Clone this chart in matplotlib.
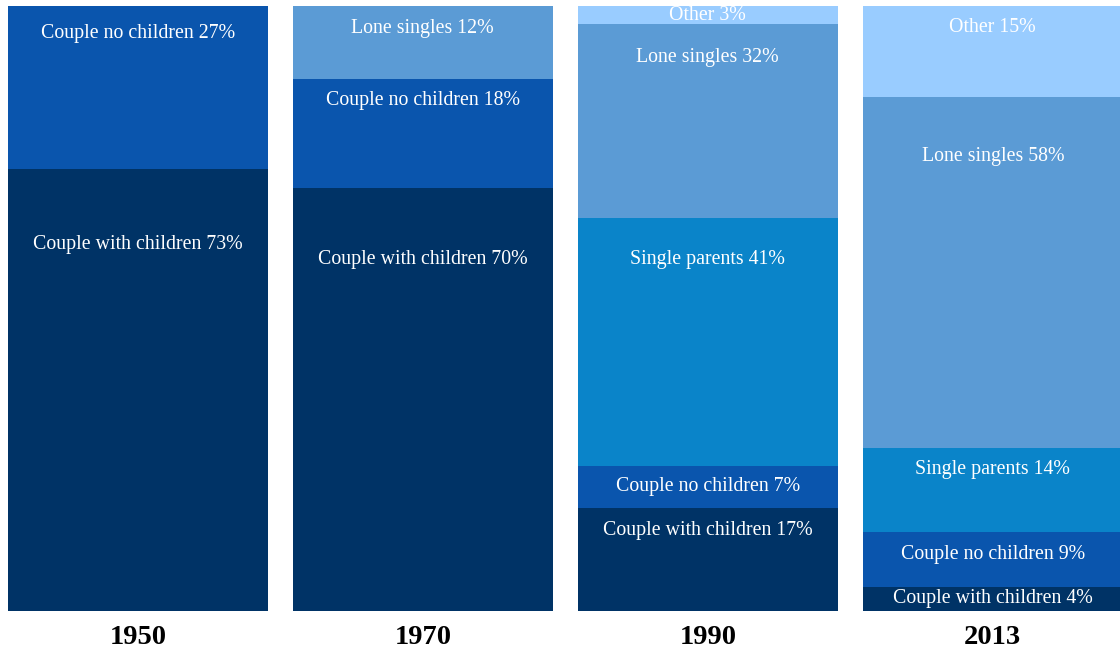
import matplotlib
matplotlib.use("Agg")
import matplotlib.pyplot as plt

# Household composition by year (percent of households)
years = ["1950", "1970", "1990", "2013"]
categories = ["Couple with children", "Couple no children", "Single parents",
              "Lone singles", "Other"]
couple_with_children = [73, 70, 17, 4]
couple_no_children = [27, 18, 7, 9]
single_parents = [0, 0, 41, 14]
lone_singles = [0, 12, 32, 58]
other = [0, 0, 3, 15]

series = [couple_with_children, couple_no_children, single_parents,
          lone_singles, other]
colors = ["#003366", "#0a55ad", "#0a84c9", "#5b9bd5", "#99ccff"]

W, H, DPI = 1120, 655, 100
fig = plt.figure(figsize=(W / DPI, H / DPI), dpi=DPI)
ax_top, ax_bottom = 6, 611
ax = fig.add_axes([0, (H - ax_bottom) / H, 1, (ax_bottom - ax_top) / H])

step_px = 285.0
bar_w = 259.5 / step_px
left_pad = 8 / step_px
ax.set_xlim(-bar_w / 2 - left_pad, -bar_w / 2 - left_pad + W / step_px)
ax.set_ylim(0, 100)
ax.axis("off")

px_per_unit = (ax_bottom - ax_top) / 100
font = "Liberation Serif"

x = list(range(len(years)))
bottoms = [0] * len(years)
for vals, col, name in zip(series, colors, categories):
    ax.bar(x, vals, bottom=bottoms, width=bar_w, color=col, linewidth=0)
    for i, v in enumerate(vals):
        if v <= 0:
            continue
        top = bottoms[i] + v
        h_px = v * px_per_unit
        off_px = min(max(22, 0.17 * h_px), h_px / 2)
        ax.annotate(f"{name} {v}%", xy=(x[i], top),
                    xytext=(0, -off_px * 72 / DPI), textcoords="offset points",
                    ha="center", va="center", color="white",
                    fontsize=14.3, family=font)
    bottoms = [b + v for b, v in zip(bottoms, vals)]

for i, yr in enumerate(years):
    ax.annotate(yr, xy=(x[i], 0), xytext=(0, -27 * 72 / DPI),
                textcoords="offset points", ha="center", va="center",
                fontsize=20.5, fontweight="bold", family=font, color="black",
                annotation_clip=False)

fig.savefig("out.png", dpi=DPI)
